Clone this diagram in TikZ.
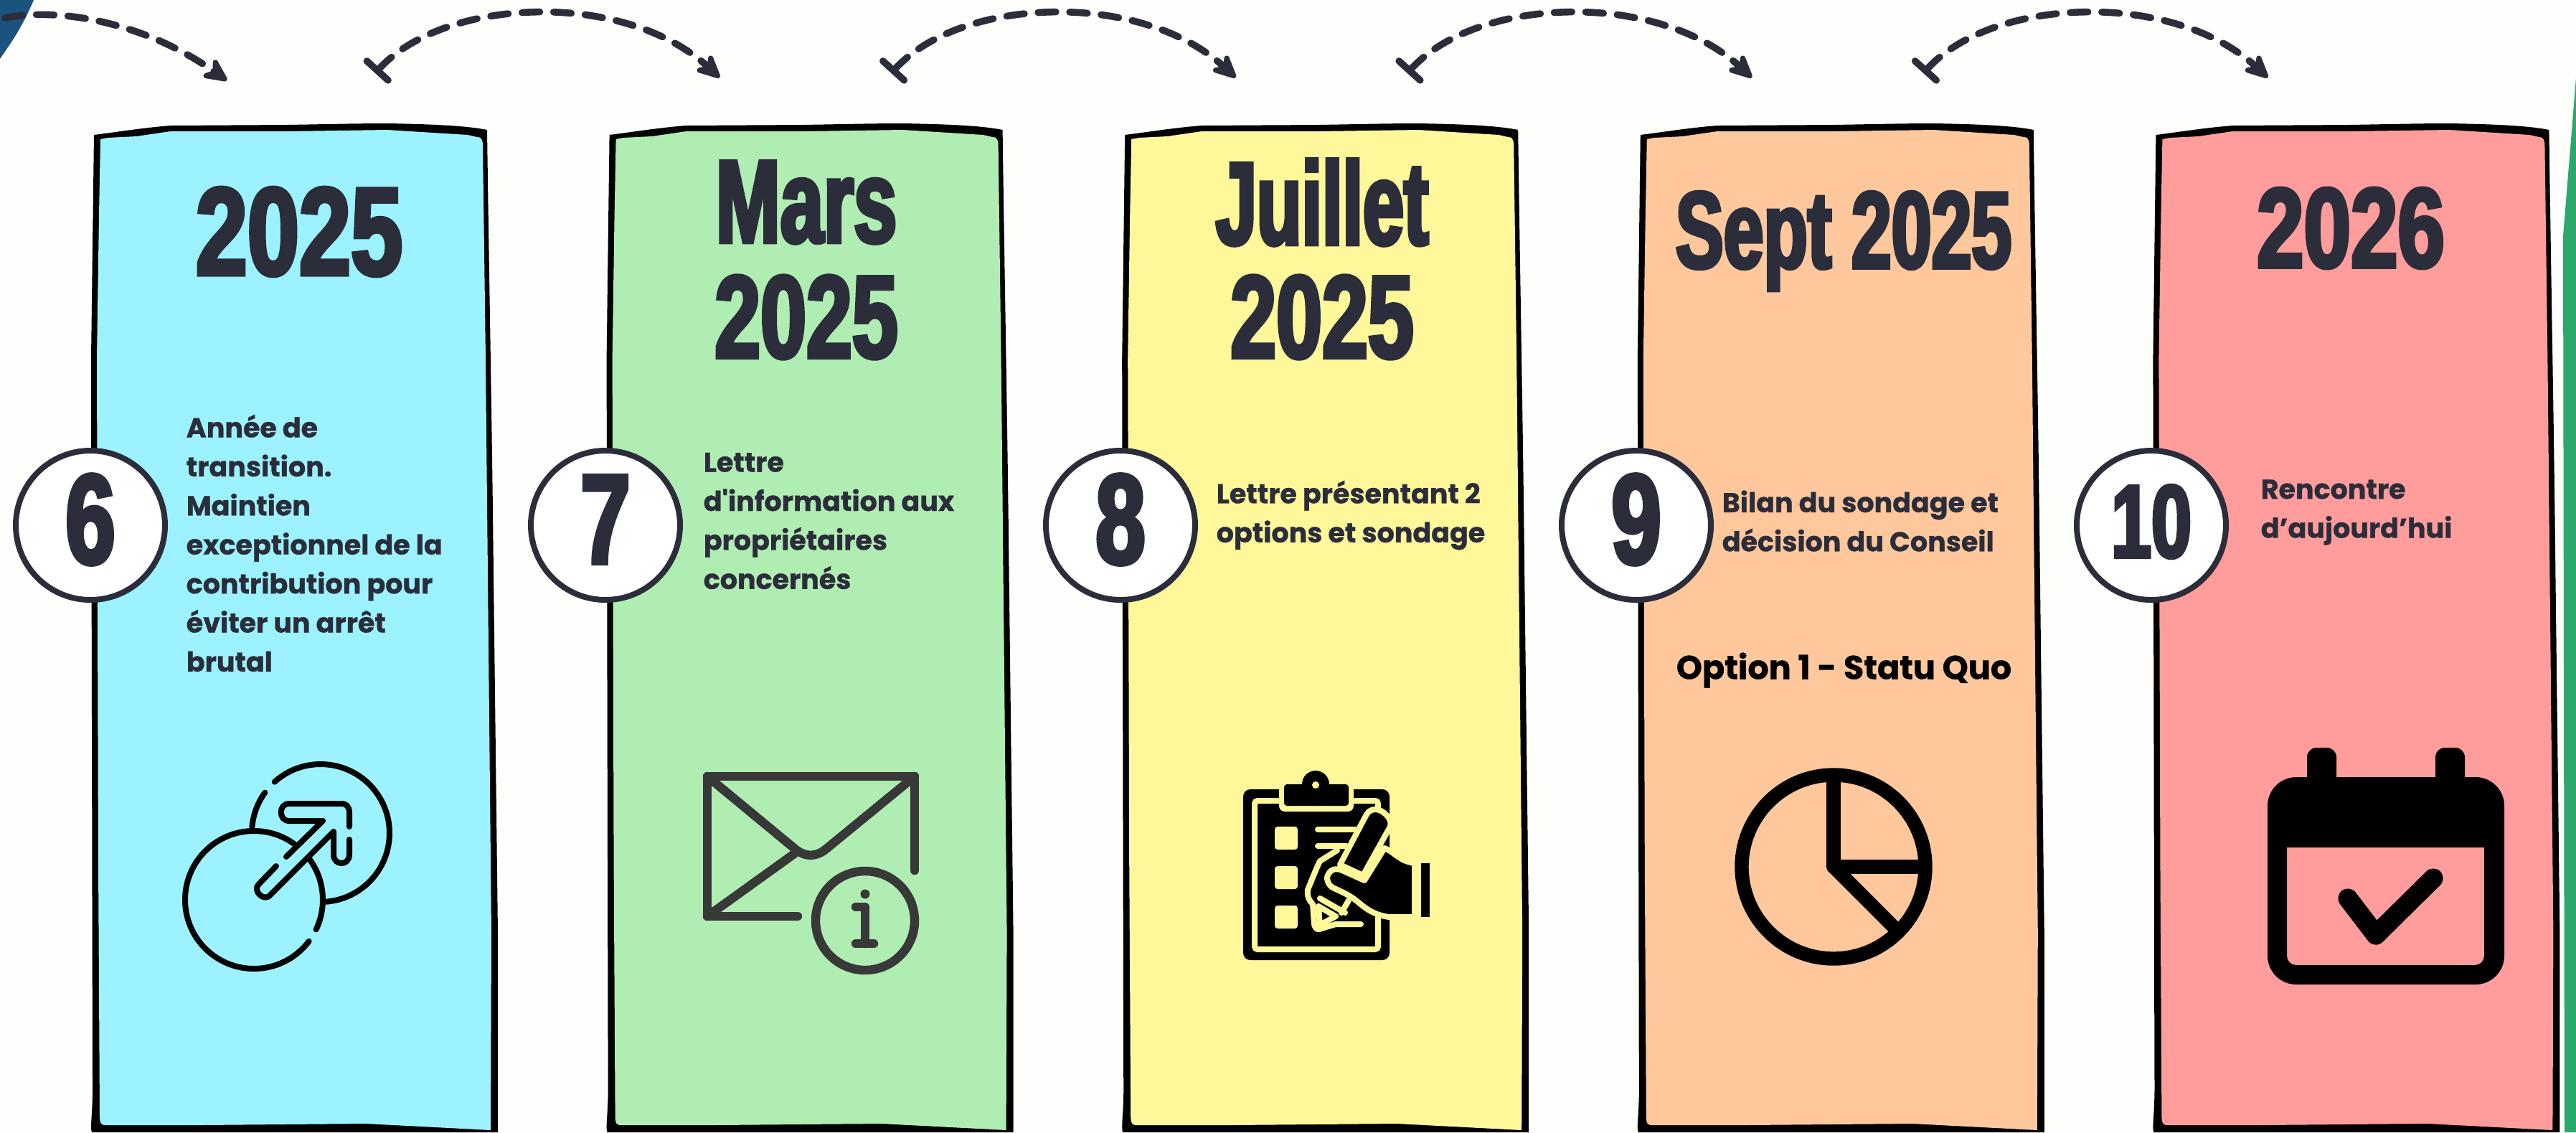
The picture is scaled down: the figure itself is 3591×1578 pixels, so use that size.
\documentclass[tikz,border=0pt]{standalone}
\usepackage{fontspec}
\usetikzlibrary{arrows.meta}
\setmainfont{Poppins}
\newfontfamily\antonw[FakeStretch=0.745,FakeBold=3.2]{Liberation Sans Bold}
\newfontfamily\antonf[FakeStretch=0.70,FakeBold=3.2]{Liberation Sans Bold}
\newfontfamily\antonm[FakeStretch=0.66,FakeBold=3.2]{Liberation Sans Bold}
\newfontfamily\antonn[FakeStretch=0.625,FakeBold=3.2]{Liberation Sans Bold}
\newfontfamily\bodyf[FakeBold=0.8]{Poppins Bold}
\definecolor{ink}{HTML}{2B2D3A}
\definecolor{paper}{HTML}{FEFEFC}
\definecolor{cardblue}{HTML}{9CF3FF}
\definecolor{cardgreen}{HTML}{B0EDB2}
\definecolor{cardyellow}{HTML}{FFF89B}
\definecolor{cardorange}{HTML}{FFC79C}
\definecolor{cardred}{HTML}{FF9C9C}
\definecolor{cornerblue}{HTML}{1B527E}
\definecolor{cornergreen}{HTML}{2BA86C}
\definecolor{envgray}{HTML}{383838}
\tikzset{
  title/.style={inner sep=0pt,text=ink,font=\antonf\fontsize{41}{41}\selectfont},
  ring/.style={circle,draw=ink,fill=white,line width=2pt,minimum size=52pt,inner sep=0pt},
  digit/.style={inner sep=0pt,text=ink,font=\antonf\fontsize{44.5}{44.5}\selectfont},
  body/.style={inner sep=0pt,anchor=west,align=left,text=ink,font=\bodyf\fontsize{9.5}{13.6}\selectfont},
  hop/.style={line width=2.4pt,draw=ink,line cap=round,dash pattern=on 6.2pt off 4.8pt},
  iconline/.style={line width=2pt,line cap=round,line join=round,draw=black},
  envline/.style={line width=3.1pt,line cap=round,line join=round,draw=envgray},
}
\begin{document}
\begin{tikzpicture}[x=0.25pt,y=-0.25pt]
\useasboundingbox (0,0) rectangle (3591,1578);
\fill[paper] (0,0) rectangle (3591,1578);
\fill[cornerblue] (0,0) -- (47,0) .. controls (30,40) and (15,60) .. (0,82) -- cycle;
\fill[cornergreen] (3591,109) -- (3573,329) -- (3575,1578) -- (3591,1578) -- cycle;
\foreach \i/\c in {0/cardblue,1/cardgreen,2/cardyellow,3/cardorange,4/cardred}{
\begin{scope}[xshift=\i*179.65pt]
\fill[black] (131,188) .. controls (170,183) and (200,178) .. (238,175) -- (400,174) .. controls (460,173) and (500,172) .. (540,172) .. controls (600,173) and (650,175) .. (679,181) .. controls (682,400) and (686,600) .. (688,800) -- (694,1300) -- (694,1578) -- (128,1578) .. controls (125,1570) and (130,1550) .. (129,1500) -- (127,500) -- cycle;
\fill[\c] (140,194) -- (138,300) -- (135,500) -- (137,1200) -- (139,1555) .. controls (139,1565) and (141,1568) .. (146,1568) -- (280,1568) -- (510,1566) -- (684,1575) -- (685,1300) -- (682,1000) -- (677,500) -- (673,200) .. controls (672,193) and (670,191) .. (665,191) -- (652,188) -- (540,181) -- (400,183) -- (238,183) -- (190,190) -- (150,192) -- cycle;
\end{scope}
}
% hops
\coordinate (h0a) at (7,25); \coordinate (h0b) at (316,112);
\draw[hop,-{Stealth[length=10.5pt,width=10pt,round]}] (h0a) .. controls (80,10) and (200,30) .. (h0b);
\foreach \i in {0,1,2,3}{
\begin{scope}[xshift=\i*179.85pt]
\coordinate (ha\i) at (523,102); \coordinate (hb\i) at (1003,108);
\draw[hop,{Bar[width=10pt,round]}-{Stealth[length=10.5pt,width=10pt,round]}] (ha\i) .. controls (620,-5) and (871,-14) .. (hb\i);
\end{scope}
}
% titles
\node[title,font=\antonw\fontsize{43.5}{43.5}\selectfont] (t1) at (417,323) {2025};
\node[title,font=\antonm\fontsize{41}{41}\selectfont] (t2a) at (1124,282) {Mars};
\node[title] (t2b) at (1124,442) {2025};
\node[title,font=\antonn\fontsize{41}{41}\selectfont] (t3a) at (1843,282) {Juillet};
\node[title] (t3b) at (1843,442) {2025};
\node[title,font=\antonm\fontsize{38}{38}\selectfont] (t4) at (2570,336) {Sept 2025};
\node[title,font=\antonw\fontsize{39.5}{39.5}\selectfont] (t5) at (3277,318) {2026};
% number circles
\node[ring] (n1) at (126,732) {};
\node[ring] (n2) at (844,732) {};
\node[ring] (n3) at (1562,732) {};
\node[ring] (n4) at (2281,732) {};
\node[ring] (n5) at (2999,732) {};
\node[digit] (d1) at (126,724) {6};
\node[digit] (d2) at (844,724) {7};
\node[digit] (d3) at (1562,724) {8};
\node[digit] (d4) at (2281,724) {9};
\node[digit,font=\antonf\fontsize{36}{36}\selectfont] (d5) at (2999,727) {10};
% body text
\node[body] (b1) at (259,757) {Année de\\transition.\\Maintien\\exceptionnel de la\\contribution pour\\éviter un arrêt\\brutal};
\node[body] (b2) at (980,726) {Lettre\\d'information aux\\propriétaires\\concernés};
\node[body] (b3) at (1695,718) {Lettre présentant 2\\options et sondage};
\node[body] (b4) at (2400,726) {Bilan du sondage et\\décision du Conseil};
\node[body,text=black,font=\bodyf\fontsize{11.5}{13.6}\selectfont] (b4b) at (2336,934) {Option 1 - Statu Quo};
\node[body] (b5) at (3151,714) {Rencontre\\d’aujourd’hui};
% icon 1
\draw[iconline] (354,1254) ++(-54:96) arc[start angle=-54,end angle=-323,radius=96];
\draw[iconline] (354,1254) ++(-35.7:96) arc[start angle=-35.7,end angle=25.5,radius=96];
\draw[iconline] (447,1161) ++(-144:96) arc[start angle=-144,end angle=-175,radius=96];
\draw[iconline] (447,1161) ++(-132:96) arc[start angle=-132,end angle=85,radius=96];
\draw[iconline] (385,1207) -- (360,1233) .. controls (352,1241) and (368,1258) .. (377,1247) -- (465,1159) -- (465,1191) .. controls (465,1207) and (487,1207) .. (487,1191) -- (487,1170);
\draw[iconline] (487,1152) -- (487,1132) .. controls (487,1124) and (482,1120) .. (477,1120) -- (403,1120) .. controls (388,1120) and (388,1144) .. (403,1144) -- (450,1144) -- (399,1194);
% icon 2
\draw[envline] (1275,1213) -- (1275,1082) -- (986,1082) -- (986,1277) -- (1112,1277);
\draw[envline] (986,1082) -- (1107,1182) .. controls (1122,1195) and (1138,1195) .. (1153,1182) -- (1275,1082);
\draw[envline] (986,1277) -- (1107,1190);
\draw[envline] (1206,1283) circle[radius=69];
\fill[envgray] (1206,1246) circle[radius=6.5];
\draw[envline] (1193,1264) -- (1206,1264) -- (1206,1315);
\draw[envline] (1193,1315) -- (1218,1315);
% icon 3
\fill[black,rounded corners=2.5pt] (1733,1100) rectangle (1937,1338);
\draw[cardyellow,line width=2pt,rounded corners=1pt] (1749,1116) rectangle (1921,1323);
\fill[cardyellow,rounded corners=2pt] (1783,1090) rectangle (1887,1131);
\fill[black,rounded corners=1pt] (1790,1093) rectangle (1880,1123);
\fill[black] (1834,1093) circle[radius=19];
\fill[cardyellow] (1834,1094) circle[radius=5];
\foreach \y in {1152,1207,1262}{\fill[cardyellow,rounded corners=1pt] (1777,\y) rectangle (1809,\y+32);}
\draw[cardyellow,line width=2pt,line cap=round] (1837,1156) -- (1890,1156);
\draw[cardyellow,line width=2pt,line cap=round] (1837,1179) -- (1877,1179);
\draw[cardyellow,line width=2pt,line join=round,line cap=round,fill=black] (1864,1185) -- (1840,1200) .. controls (1835,1210) and (1828,1228) .. (1823,1240) .. controls (1822,1250) and (1825,1255) .. (1830,1260) -- (1832,1288) .. controls (1834,1296) and (1838,1296) .. (1842,1294) -- (1862,1288) -- (1897,1288);
\draw[cardyellow,line width=2pt,line join=round,line cap=round] (1838,1263) -- (1862,1277) -- (1840,1289) -- cycle;
\draw[cardyellow,line width=2pt,line cap=round] (1840,1252) -- (1875,1272);
\draw[cardyellow,line width=2pt,line cap=round] (1880,1255) -- (1870,1272);
\draw[cardyellow,line width=2pt,fill=black,line join=round] (1918,1128) .. controls (1926,1128) and (1942,1140) .. (1938,1152) -- (1900,1220) -- (1868,1205) -- (1905,1135) .. controls (1908,1130) and (1912,1128) .. (1918,1128) -- cycle;
\draw[cardyellow,line width=2pt,fill=black,line join=round] (1930,1182) .. controls (1945,1188) and (1950,1200) .. (1972,1203) -- (1972,1278) -- (1937,1278) .. controls (1920,1276) and (1908,1270) .. (1893,1257) .. controls (1882,1248) and (1875,1245) .. (1860,1238) .. controls (1850,1234) and (1848,1222) .. (1852,1218) .. controls (1856,1210) and (1864,1210) .. (1871,1213) -- (1902,1227) -- cycle;
\fill[black] (1981,1203) rectangle (1993,1278);
% icon 4
\draw[black,line width=4.85pt] (2556,1208) circle[radius=128];
\draw[black,line width=4.85pt,line join=round] (2556,1085) -- (2556,1208) -- (2680,1208);
\draw[black,line width=4.85pt] (2556,1208) -- (2646,1298);
% icon 5
\fill[black,rounded corners=3.3pt] (3216,1042) rectangle (3257,1100);
\fill[black,rounded corners=3.3pt] (3395,1042) rectangle (3436,1100);
\fill[black,even odd rule,rounded corners=10pt] (3161,1083) rectangle (3491,1372)
  (3188,1181) [sharp corners] -- (3463,1181) [rounded corners=3.2pt] -- (3463,1345) -- (3188,1345) [sharp corners] -- cycle;
\draw[black,line width=6.8pt,line cap=round,line join=round] (3273,1252) -- (3312,1303) -- (3392,1224);
\end{tikzpicture}
\end{document}
